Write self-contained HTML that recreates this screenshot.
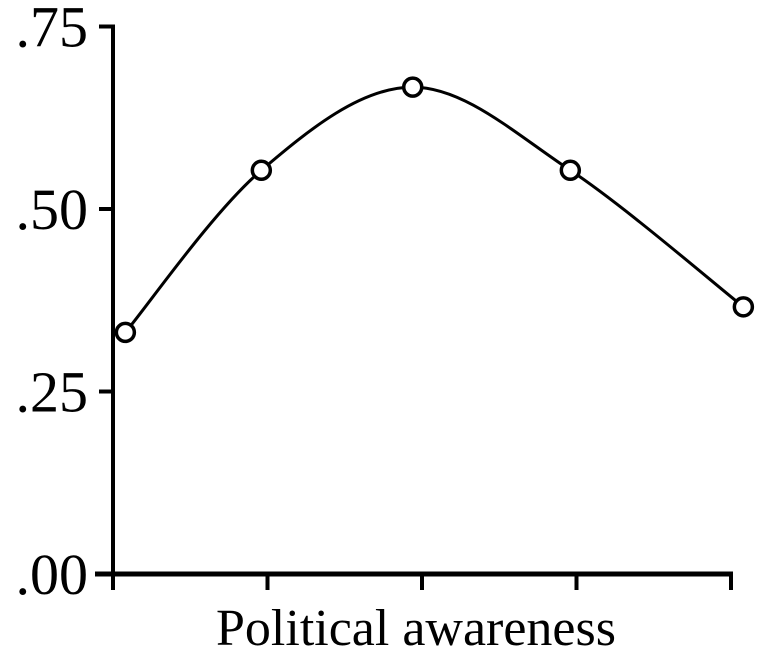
<!DOCTYPE html>
<html><head><meta charset="utf-8"><style>
html,body{margin:0;padding:0;background:#fff;}
svg{display:block;}
text{font-family:"Liberation Serif",serif;fill:#000;}
</style></head><body>
<svg id="chart" width="777" height="662" viewBox="0 0 777 662" xmlns="http://www.w3.org/2000/svg"></svg>
<script>
const yTickValues=[0,0.25,0.5,0.75];
const yTickLabels=[".00",".25",".50",".75"];
const xTickValues=[0,1,2,3,4];
const pointX=[0.08,0.96,1.94,2.96,4.08];
const pointY=[0.331,0.553,0.667,0.553,0.366];

const NS="http://www.w3.org/2000/svg";
const svg=document.getElementById('chart');
const x0=113,xStep=154.5,y0=574,yScale=730;
function xs(v){return x0+v*xStep;}
function ys(v){return y0-v*yScale;}
function mk(tag,attrs){const e=document.createElementNS(NS,tag);for(const k in attrs)e.setAttribute(k,attrs[k]);svg.appendChild(e);return e;}

const yAxis=mk('line',{x1:x0,y1:ys(0.75)-2,x2:x0,y2:ys(0)+16,stroke:'#000','stroke-width':4});


const xAxis=mk('line',{x1:x0-18,y1:y0,x2:xs(4)+2,y2:y0,stroke:'#000','stroke-width':5});



yTickValues.forEach((v,i)=>{
  const t=mk('line',{x1:x0-14,y1:ys(v),x2:x0,y2:ys(v),stroke:'#000','stroke-width':4});
  
  
  const l=mk('text',{x:x0-25,y:ys(v)+20,'font-size':58,'text-anchor':'end'});
  l.textContent=yTickLabels[i];
  
  
});
xTickValues.forEach(v=>{
  if(v===0)return;
  const t=mk('line',{x1:xs(v),y1:y0,x2:xs(v),y2:y0+16,stroke:'#000','stroke-width':4});
  
  
});

const pts=pointX.map((v,i)=>[xs(v),ys(pointY[i])]);
let d='M'+pts[0][0]+','+pts[0][1];
for(let i=0;i<pts.length-1;i++){
  const p0=pts[Math.max(0,i-1)],p1=pts[i],p2=pts[i+1],p3=pts[Math.min(pts.length-1,i+2)];
  const c1=[p1[0]+(p2[0]-p0[0])/6,p1[1]+(p2[1]-p0[1])/6];
  const c2=[p2[0]-(p3[0]-p1[0])/6,p2[1]-(p3[1]-p1[1])/6];
  d+=' C'+c1+' '+c2+' '+p2;
}
const line=mk('path',{d:d,fill:'none',stroke:'#000','stroke-width':3});


pts.forEach(p=>{
  const c=mk('circle',{cx:p[0],cy:p[1],r:9,fill:'#fff',stroke:'#000','stroke-width':3.5});
  
  
});

const xt=mk('text',{x:416,y:645,'font-size':52,'text-anchor':'middle'});
xt.textContent='Political awareness';


</script>
</body></html>
